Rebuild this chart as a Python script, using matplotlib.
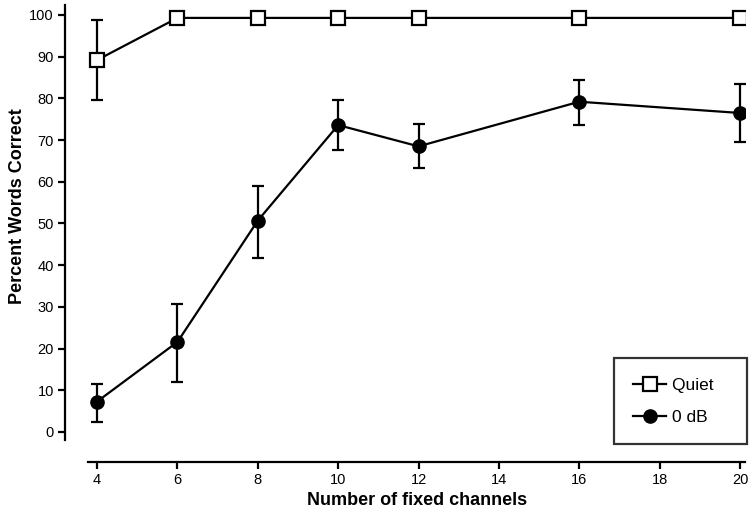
import matplotlib
matplotlib.use('Agg')
import numpy as np
import matplotlib.pyplot as plt
from matplotlib.lines import Line2D

matplotlib.rcParams['font.family'] = ['Liberation Sans', 'DejaVu Sans']

channels = [4, 6, 8, 10, 12, 16, 20]

quiet = [89.2, 99.3, 99.3, 99.3, 99.3, 99.3, 99.3]
quiet_lo = [79.6, 97.9, 99.3, 99.3, 99.3, 99.3, 99.3]
quiet_hi = [98.8, 100.3, 99.3, 99.3, 99.3, 99.3, 99.3]

db0 = [7.3, 21.6, 50.7, 73.6, 68.5, 79.2, 76.5]
db0_lo = [2.4, 12.1, 41.8, 67.7, 63.4, 73.5, 69.6]
db0_hi = [11.5, 30.8, 59.0, 79.7, 73.9, 84.4, 83.4]

xticks = np.arange(4, 21, 2)
yticks = np.arange(0, 101, 10)

fig = plt.figure(figsize=(7.52, 5.19), dpi=100)
ax = fig.add_axes([0.0864, 0.1098, 0.904, 0.8806])

q = np.array(quiet)
d = np.array(db0)
q_err = [q - np.array(quiet_lo), np.array(quiet_hi) - q]
d_err = [d - np.array(db0_lo), np.array(db0_hi) - d]

ax.errorbar(channels, quiet, yerr=q_err, color='black', lw=1.6, elinewidth=1.6,
            capsize=4.5, capthick=1.6, marker='s', ms=10, mfc='white', mec='black',
            mew=1.6, zorder=3)
ax.errorbar(channels, db0, yerr=d_err, color='black', lw=1.6, elinewidth=1.6,
            capsize=4.5, capthick=1.6, marker='o', ms=9.5, mfc='black', mec='black',
            zorder=3)

ax.set_xlim(3.2, 20.12)
ax.set_ylim(-7.2, 102.4)

for s in ['top', 'right']:
    ax.spines[s].set_visible(False)
ax.spines['left'].set_bounds(-1.9, 102.4)
ax.spines['bottom'].set_bounds(3.78, 20.12)
ax.spines['left'].set_linewidth(1.6)
ax.spines['bottom'].set_linewidth(1.6)

ax.set_xticks(xticks)
ax.set_yticks(yticks)
ax.tick_params(labelsize=10.5, width=1.6, length=5, direction='out', pad=3)

ax.set_xlabel('Number of fixed channels', fontsize=13, fontweight='bold')
ax.set_ylabel('Percent Words Correct', fontsize=13, fontweight='bold')
ax.xaxis.set_label_coords(0.518, -0.066)
ax.yaxis.set_label_coords(-0.058, 0.56)

handles = [
    Line2D([], [], color='black', lw=1.6, marker='s', ms=10, mfc='white',
           mec='black', mew=1.6),
    Line2D([], [], color='black', lw=1.6, marker='o', ms=9.5, mfc='black',
           mec='black'),
]
leg = ax.legend(handles, ['Quiet   ', '0 dB   '], loc='lower right',
                bbox_to_anchor=(1.003, 0.039), fontsize=12.5, frameon=True,
                fancybox=False, edgecolor='black', handlelength=1.9,
                handletextpad=0.3, borderpad=1.1, labelspacing=1.0, numpoints=1,
                borderaxespad=0)
leg.get_frame().set_linewidth(1.6)

plt.savefig('out.png', dpi=100)
